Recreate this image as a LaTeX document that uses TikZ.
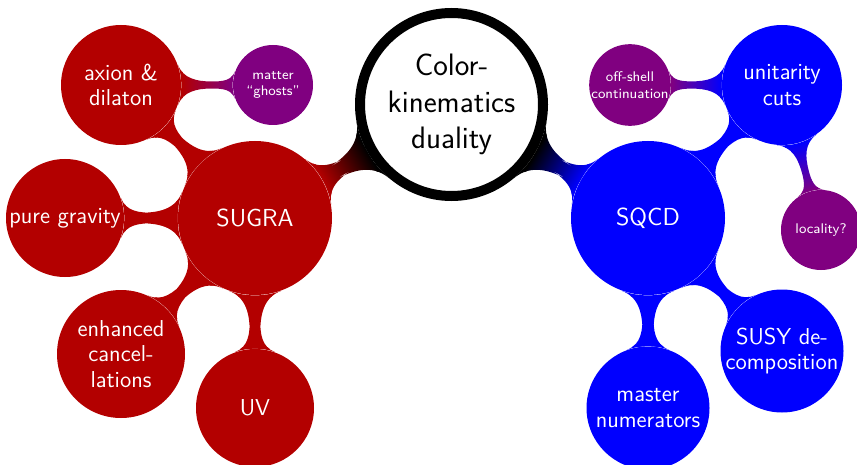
\documentclass[tikz,border=0pt]{standalone}
\usetikzlibrary{mindmap,backgrounds}
\definecolor{sugrared}{RGB}{179,0,0}
\definecolor{sqcdblue}{RGB}{0,0,255}
\definecolor{ghostpurple}{RGB}{128,0,128}
\tikzset{
  bubble/.style={circle, inner sep=0pt, align=center, text=white,
    font=\sffamily\fontsize{11.5}{12.8}\selectfont},
  lvone/.style={bubble, minimum size=77pt, font=\sffamily\fontsize{12.3}{14}\selectfont},
  lvtwo/.style={bubble, minimum size=59pt},
  lvthree/.style={bubble, minimum size=40pt, font=\sffamily\fontsize{7}{8.3}\selectfont},
  rootbubble/.style={circle, inner sep=0pt, align=center, fill=white, draw=black,
    line width=5pt, minimum size=91.5pt, font=\sffamily\fontsize{15.5}{18.25}\selectfont}
}
\begin{document}
\begin{tikzpicture}[x=0.5pt,y=-0.5pt]
\useasboundingbox (0,0) rectangle (857,465);
\node[rootbubble] (root) at (451.5,104.5) {Color-\\kinematics\\duality};
\node[lvone, fill=sugrared] (sugra) at (255,218) {SUGRA};
\node[lvone, fill=sqcdblue] (sqcd) at (648,218) {SQCD};
\node[lvtwo, fill=sugrared, minimum size=60pt] (axion) at (121,85) {axion \&\\dilaton};
\node[lvtwo, fill=sugrared] (pure) at (65,218) {pure gravity};
\node[lvtwo, fill=sugrared, minimum size=64pt] (enh) at (121,354) {enhanced\\cancel-\\lations};
\node[lvtwo, fill=sugrared] (uv) at (255,408) {UV};
\node[lvthree, fill=ghostpurple] (ghosts) at (273,85) {matter\\``ghosts''};
\node[lvtwo, fill=sqcdblue, minimum size=60pt] (unit) at (782,85) {unitarity\\cuts};
\node[lvthree, fill=ghostpurple] (offshell) at (630,85) {off-shell\\continuation};
\node[lvthree, fill=ghostpurple] (local) at (821,230) {locality?};
\node[lvtwo, fill=sqcdblue, minimum size=61.5pt] (susy) at (782,351) {SUSY de-\\composition};
\node[lvtwo, fill=sqcdblue, minimum size=61.5pt] (master) at (648,408) {master\\numerators};
\begin{scope}[on background layer]
\path (root) to[circle connection bar switch color=from (black) to (sugrared)] (sugra);
\path (root) to[circle connection bar switch color=from (black) to (sqcdblue)] (sqcd);
\path (sugra) to[circle connection bar switch color=from (sugrared) to (sugrared)] (axion);
\path (sugra) to[circle connection bar switch color=from (sugrared) to (sugrared)] (pure);
\path (sugra) to[circle connection bar switch color=from (sugrared) to (sugrared)] (enh);
\path (sugra) to[circle connection bar switch color=from (sugrared) to (sugrared)] (uv);
\path (axion) to[circle connection bar switch color=from (sugrared) to (ghostpurple)] (ghosts);
\path (sqcd) to[circle connection bar switch color=from (sqcdblue) to (sqcdblue)] (unit);
\path (sqcd) to[circle connection bar switch color=from (sqcdblue) to (sqcdblue)] (susy);
\path (sqcd) to[circle connection bar switch color=from (sqcdblue) to (sqcdblue)] (master);
\path (unit) to[circle connection bar switch color=from (sqcdblue) to (ghostpurple)] (offshell);
\path (unit) to[circle connection bar switch color=from (sqcdblue) to (ghostpurple)] (local);
\end{scope}
\end{tikzpicture}
\end{document}
